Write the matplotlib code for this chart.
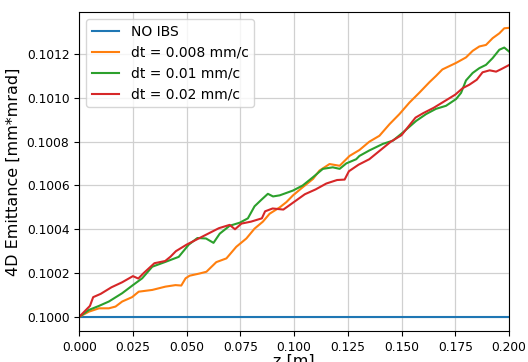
import matplotlib
matplotlib.use('Agg')
import matplotlib.pyplot as plt
import numpy as np
from matplotlib.ticker import FormatStrFormatter, MultipleLocator

# emittance vs z
z_noibs = [0.0, 0.2]
emit_noibs = [0.1, 0.1]

z_dt008 = [0, 0.0046, 0.0092, 0.0138, 0.0169, 0.02, 0.0246, 0.0277, 0.034, 0.0401,
           0.0448, 0.0475, 0.0495, 0.0514, 0.056, 0.0592, 0.0638, 0.0685, 0.0731, 0.0778,
           0.0816, 0.0855, 0.0886, 0.0933, 0.0964, 0.0995, 0.104, 0.1088, 0.1118, 0.1165,
           0.1212, 0.1258, 0.1304, 0.135, 0.1397, 0.1444, 0.149, 0.1537, 0.1583, 0.163,
           0.166, 0.169, 0.1722, 0.1754, 0.18, 0.1831, 0.1862, 0.1893, 0.1924, 0.1955,
           0.1978, 0.2]
emit_dt008 = [0.100000, 0.100024, 0.100039, 0.100039, 0.100047, 0.100070, 0.100090, 0.100115, 0.100123, 0.100138,
              0.100145, 0.100143, 0.100176, 0.100188, 0.100198, 0.100206, 0.100250, 0.100267, 0.100320, 0.100358,
              0.100403, 0.100435, 0.100471, 0.100500, 0.100524, 0.100555, 0.100592, 0.100630, 0.100668, 0.100698,
              0.100690, 0.100735, 0.100762, 0.100800, 0.100827, 0.100880, 0.100926, 0.100979, 0.101024, 0.101072,
              0.101100, 0.101130, 0.101145, 0.101160, 0.101185, 0.101215, 0.101235, 0.101242, 0.101273, 0.101295,
              0.101318, 0.101320]

z_dt01 = [0, 0.0046, 0.0092, 0.0138, 0.02, 0.025, 0.0293, 0.034, 0.0401, 0.0463,
          0.051, 0.055, 0.059, 0.0625, 0.0654, 0.07, 0.0747, 0.0785, 0.0816, 0.0848,
          0.0878, 0.0902, 0.0933, 0.0995, 0.104, 0.1088, 0.1134, 0.118, 0.1212, 0.1243,
          0.1289, 0.1304, 0.135, 0.1413, 0.146, 0.1506, 0.1568, 0.1614, 0.166, 0.1707,
          0.1754, 0.1777, 0.18, 0.1831, 0.1862, 0.1893, 0.1924, 0.1955, 0.1978, 0.2]
emit_dt01 = [0.100000, 0.100032, 0.100050, 0.100070, 0.100108, 0.100145, 0.100176, 0.100229, 0.100251, 0.100274,
             0.100330, 0.100360, 0.100358, 0.100338, 0.100380, 0.100416, 0.100430, 0.100450, 0.100505, 0.100535,
             0.100562, 0.100550, 0.100555, 0.100577, 0.100600, 0.100638, 0.100676, 0.100683, 0.100676, 0.100701,
             0.100720, 0.100735, 0.100760, 0.100790, 0.100805, 0.100842, 0.100895, 0.100926, 0.100950, 0.100964,
             0.100995, 0.101023, 0.101080, 0.101114, 0.101136, 0.101151, 0.101182, 0.101220, 0.101230, 0.101212]

z_dt02 = [0, 0.0025, 0.005, 0.0065, 0.01, 0.015, 0.02, 0.025, 0.0275, 0.03,
          0.035, 0.04, 0.0425, 0.045, 0.05, 0.055, 0.06, 0.065, 0.07, 0.0725,
          0.0755, 0.08, 0.085, 0.0865, 0.09, 0.095, 0.1, 0.105, 0.11, 0.115,
          0.12, 0.1235, 0.1255, 0.13, 0.135, 0.14, 0.145, 0.15, 0.1565, 0.16,
          0.165, 0.17, 0.175, 0.1785, 0.1815, 0.185, 0.1877, 0.191, 0.194, 0.1965,
          0.2]
emit_dt02 = [0.100000, 0.100025, 0.100050, 0.100090, 0.100105, 0.100135, 0.100158, 0.100186, 0.100175, 0.100200,
             0.100245, 0.100255, 0.100275, 0.100300, 0.100330, 0.100355, 0.100380, 0.100405, 0.100420, 0.100400,
             0.100426, 0.100435, 0.100450, 0.100482, 0.100495, 0.100490, 0.100525, 0.100560, 0.100582, 0.100609,
             0.100625, 0.100627, 0.100665, 0.100695, 0.100720, 0.100760, 0.100800, 0.100830, 0.100910, 0.100930,
             0.100955, 0.100985, 0.101015, 0.101045, 0.101060, 0.101083, 0.101117, 0.101126, 0.101120, 0.101132,
             0.101150]

labels = ['NO IBS', 'dt = 0.008 mm/c', 'dt = 0.01 mm/c', 'dt = 0.02 mm/c']

fig, ax = plt.subplots(figsize=(5.28, 3.62), dpi=100)
fig.subplots_adjust(left=0.150, right=0.964, bottom=0.086, top=0.966)

lw = 1.5
ax.plot(z_noibs, emit_noibs, color='tab:blue', lw=lw, label=labels[0])
ax.plot(z_dt008, emit_dt008, color='tab:orange', lw=lw, label=labels[1])
ax.plot(z_dt01, emit_dt01, color='tab:green', lw=lw, label=labels[2])
ax.plot(z_dt02, emit_dt02, color='tab:red', lw=lw, label=labels[3])

ax.set_xlim(0, 0.2)
ax.set_ylim(0.099936, 0.101391)
ax.xaxis.set_major_locator(MultipleLocator(0.025))
ax.yaxis.set_major_locator(MultipleLocator(0.0002))
ax.xaxis.set_major_formatter(FormatStrFormatter('%.3f'))
ax.yaxis.set_major_formatter(FormatStrFormatter('%.4f'))
ax.tick_params(labelsize=8.8)
ax.grid(color='#d0d0d0', lw=0.9)
ax.set_axisbelow(True)

# label sits partly below the figure edge, as in the original
ax.set_xlabel('z [m]', fontsize=11.5, labelpad=0.5)
ax.set_ylabel('4D Emittance [mm*mrad]', fontsize=11.5)
ax.legend(loc='upper left', fontsize=10)

fig.savefig('out.png', dpi=100)
